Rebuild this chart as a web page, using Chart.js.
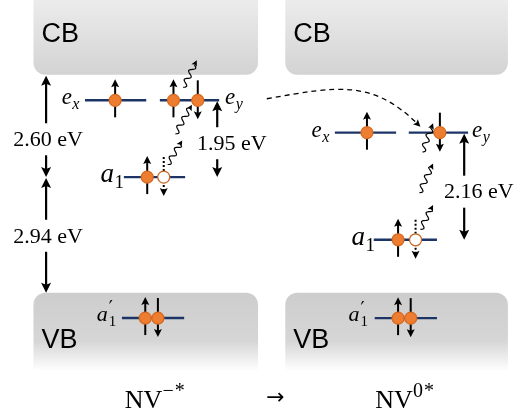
<!DOCTYPE html>
<html>
<head>
<meta charset="utf-8">
<script src="https://cdn.jsdelivr.net/npm/chart.js@4/dist/chart.umd.min.js"></script>
<style>
  html, body { margin: 0; padding: 0; background: #ffffff; }
  canvas { display: block; }
</style>
</head>
<body>
<canvas id="diagram" width="520" height="412"></canvas>
<script>
// ---------------- energies (eV, measured from the valence-band maximum) ----------------
const negGaps      = [2.60, 2.94, 1.95];   // NV−* : a1→CB, VB→a1, a1→e
const neuGaps      = [2.16];               // NV0* : a1→e
const neuA1        = 1.07;                 // NV0* : a1 above the VB
const neuCB        = 4.40;                 // NV0* : CB edge
const a1Prime      = [-0.64, -0.51];       // a1' resonance inside the VB (NV−*, NV0*)
const stateBase    = ['NV', 'NV'];
const stateCharges = [['−', '*'], ['0', '*']];

const negE = { vb: 0, a1: negGaps[1], e: negGaps[1] + negGaps[2], cb: negGaps[1] + negGaps[0], a1p: a1Prime[0] };
const neuE = { vb: 0, a1: neuA1, e: neuA1 + neuGaps[0], cb: neuCB, a1p: a1Prime[1] };

// occupations: [orbital, spin (+1 up / -1 down), hole]
const negOcc = [['ex', 1], ['ey', 1], ['ey', -1], ['a1', 1], ['a1', -1, true], ['a1p', 1], ['a1p', -1]];
const neuOcc = [['ex', 1], ['ey', -1], ['a1', 1], ['a1', -1, true], ['a1p', 1], ['a1p', -1]];

// orbital of each level line
const levelOf = { ex: 'e', ey: 'e', a1: 'a1', a1p: 'a1p' };

// ---------------- layout of the two panels ----------------
const panels = [
  {
    E: negE, axis: 'yL', band: [27, 258], labelShift: 9,
    lines: { ex: [80, 143], ey: [157, 218], a1: [120, 183], a1p: [118, 182] },
    occ: negOcc, occX: [111, 171, 196, 144, 161, 142, 155],
    names: { ex: 56, ey: 224, a1: 96, a1p: 92 },
    gaps: [
      { v: negGaps[0], from: 'a1', to: 'cb', x: 40, lx: 42, lE: 3.90 },
      { v: negGaps[1], from: 'vb', to: 'a1', x: 40, lx: 42, lE: 1.45 },
      { v: negGaps[2], from: 'a1', to: 'e',  x: 216, lx: 231, lE: 3.80 }
    ],
    photons: [[165, 3.26, 180, 3.87], [173, 4.04, 190, 4.78], [181, 5.22, 195, 5.91]]
  },
  {
    E: neuE, axis: 'yR', band: [286, 515], labelShift: 8,
    lines: { ex: [337, 400], ey: [413, 474], a1: [377, 442], a1p: [378, 442] },
    occ: neuOcc, occX: [370, 445, 402, 420, 402, 415],
    names: { ex: 313, ey: 478, a1: 354, a1p: 351 },
    gaps: [
      { v: neuGaps[0], from: 'a1', to: 'e', x: 470, lx: 485, lE: 2.04 }
    ],
    photons: [[427, 2.84, 438, 3.42], [424, 2.02, 438, 2.61], [425, 1.28, 438, 1.77]]
  }
];

// electron hopping from the NV−* e level into the NV0* e level (x, E on the left axis)
const transferPath = [[267, 4.93], [340, 5.25], [375, 5.42], [425, 4.22]];

// ---------------- styles ----------------
const LEVEL_COLOR = '#1d3566';
const ELECTRON = '#ED7D31';
const ELECTRON_EDGE = '#D8681F';
const HOLE_EDGE = '#C9621F';
const SERIF = '"Liberation Serif", "Times New Roman", serif';
const SANS = '"Liberation Sans", Arial, sans-serif';

// ---------------- datasets ----------------
const datasets = [];
panels.forEach(p => {
  Object.keys(p.lines).forEach(k => {
    const e = p.E[levelOf[k]];
    datasets.push({
      data: [{ x: p.lines[k][0], y: e }, { x: p.lines[k][1], y: e }],
      yAxisID: p.axis, showLine: true, borderColor: LEVEL_COLOR, borderWidth: 2.4,
      pointRadius: 0, order: 3
    });
  });
  datasets.push({
    data: p.occ.map((o, i) => ({ x: p.occX[i], y: p.E[levelOf[o[0]]] })),
    yAxisID: p.axis, showLine: false, order: 1,
    pointRadius: 6, pointBorderWidth: 1.2,
    pointBackgroundColor: p.occ.map(o => o[2] ? '#ffffff' : ELECTRON),
    pointBorderColor: p.occ.map(o => o[2] ? HOLE_EDGE : ELECTRON_EDGE)
  });
});

// ---------------- drawing helpers ----------------
function head(ctx, x, y, ang, len, half) {
  const c = Math.cos(ang), s = Math.sin(ang);
  ctx.beginPath();
  ctx.moveTo(x, y);
  ctx.lineTo(x - len * c + half * s, y - len * s - half * c);
  ctx.lineTo(x - len * c * 0.8, y - len * s * 0.8);
  ctx.lineTo(x - len * c - half * s, y - len * s + half * c);
  ctx.closePath();
  ctx.fill();
}
function arrow(ctx, x0, y0, x1, y1, o) {
  const ang = Math.atan2(y1 - y0, x1 - x0);
  ctx.save();
  ctx.strokeStyle = ctx.fillStyle = '#000';
  ctx.lineWidth = o.width;
  if (o.dash) ctx.setLineDash(o.dash);
  ctx.beginPath();
  ctx.moveTo(x0, y0);
  ctx.lineTo(x1 - o.len * 0.7 * Math.cos(ang), y1 - o.len * 0.7 * Math.sin(ang));
  ctx.stroke();
  ctx.setLineDash([]);
  head(ctx, x1, y1, ang, o.len, o.half);
  ctx.restore();
}
function photon(ctx, x0, y0, x1, y1) {
  const dx = x1 - x0, dy = y1 - y0, L = Math.hypot(dx, dy);
  const ux = dx / L, uy = dy / L, nx = -uy, ny = ux;
  const hl = 5, amp = 2.6, wl = 10;
  ctx.save();
  ctx.strokeStyle = ctx.fillStyle = '#000';
  ctx.lineWidth = 1.2;
  ctx.beginPath();
  for (let s = 0; s <= L - hl + 0.01; s += 0.5) {
    const w = amp * Math.sin(2 * Math.PI * s / wl);
    const X = x0 + ux * s + nx * w, Y = y0 + uy * s + ny * w;
    if (s === 0) ctx.moveTo(X, Y); else ctx.lineTo(X, Y);
  }
  ctx.stroke();
  head(ctx, x1, y1, Math.atan2(dy, dx), 6, 3);
  ctx.restore();
}
function mathName(ctx, x, y, base, sub, size, prime) {
  ctx.fillStyle = '#000';
  ctx.textAlign = 'left';
  ctx.textBaseline = 'alphabetic';
  ctx.font = 'italic ' + size + 'px ' + SERIF;
  ctx.fillText(base, x, y);
  const w = ctx.measureText(base).width;
  if (prime) {
    ctx.font = Math.round(size * 0.8) + 'px "DejaVu Serif", serif';
    ctx.fillText('′', x + w + 1, y - size * 0.3);
  }
  const subIsDigit = /\d/.test(sub);
  ctx.font = (subIsDigit ? '' : 'italic ') + Math.round(size * 0.7) + 'px ' + SERIF;
  ctx.fillText(sub, x + w + (prime ? 1 : 0.5), y + size * 0.22);
}

// ---------------- plugin: bands, arrows, photons, text ----------------
const levelDiagram = {
  id: 'levelDiagram',
  beforeDatasetsDraw(chart) {
    const ctx = chart.ctx, X = chart.scales.x;
    panels.forEach(p => {
      const Y = chart.scales[p.axis];
      const xl = X.getPixelForValue(p.band[0]), xr = X.getPixelForValue(p.band[1]);
      const cb = Y.getPixelForValue(p.E.cb), vb = Y.getPixelForValue(p.E.vb);
      // conduction band
      let g = ctx.createLinearGradient(0, 0, 0, cb);
      g.addColorStop(0, '#ececec');
      g.addColorStop(1, '#d3d3d3');
      ctx.fillStyle = g;
      ctx.beginPath();
      ctx.roundRect(xl, -30, xr - xl, cb + 30, 12);
      ctx.fill();
      // valence band
      g = ctx.createLinearGradient(0, vb, 0, vb + 78);
      g.addColorStop(0, '#cdcdcd');
      g.addColorStop(0.62, '#d6d6d6');
      g.addColorStop(1, '#ffffff');
      ctx.fillStyle = g;
      ctx.beginPath();
      ctx.roundRect(xl, vb, xr - xl, 90, [12, 12, 0, 0]);
      ctx.fill();
      // band names
      ctx.fillStyle = '#000';
      ctx.font = '27px ' + SANS;
      ctx.textAlign = 'left';
      ctx.textBaseline = 'alphabetic';
      ctx.fillText('CB', xl + 8, cb - 33);
      ctx.fillText('VB', xl + 8, vb + 55);

      // spin arrows through each electron
      p.occ.forEach((o, i) => {
        const x = X.getPixelForValue(p.occX[i]);
        const y = Y.getPixelForValue(p.E[levelOf[o[0]]]);
        const opt = { width: 2, len: 8, half: 4, dash: o[2] ? [2, 2] : null };
        if (o[1] > 0) arrow(ctx, x, y + 17, x, y - 21, opt);
        else arrow(ctx, x, y - 20, x, y + 19, opt);
      });
    });
  },
  afterDatasetsDraw(chart) {
    const ctx = chart.ctx, X = chart.scales.x;
    panels.forEach(p => {
      const Y = chart.scales[p.axis];
      // energy separations
      p.gaps.forEach(gp => {
        const x = X.getPixelForValue(gp.x);
        const yTop = Y.getPixelForValue(p.E[gp.to]);
        const yBot = Y.getPixelForValue(p.E[gp.from]);
        const yl = Y.getPixelForValue(gp.lE);
        const opt = { width: 2.2, len: 10, half: 5 };
        arrow(ctx, x, yl - 16, x, yTop + 1, opt);
        arrow(ctx, x, yl + 16, x, yBot, opt);
        ctx.fillStyle = '#000';
        ctx.font = '22px ' + SERIF;
        ctx.textAlign = 'center';
        ctx.textBaseline = 'middle';
        ctx.fillText(gp.v.toFixed(2) + ' eV', X.getPixelForValue(gp.lx), yl + 1);
      });
      // photons
      p.photons.forEach(ph => photon(ctx,
        X.getPixelForValue(ph[0]), Y.getPixelForValue(ph[1]),
        X.getPixelForValue(ph[2]), Y.getPixelForValue(ph[3])));
      // orbital names
      const yE = Y.getPixelForValue(p.E.e), yA = Y.getPixelForValue(p.E.a1), yP = Y.getPixelForValue(p.E.a1p);
      mathName(ctx, X.getPixelForValue(p.names.ex), yE + 4, 'e', 'x', 23);
      mathName(ctx, X.getPixelForValue(p.names.ey), yE + 4, 'e', 'y', 23);
      mathName(ctx, X.getPixelForValue(p.names.a1), yA + 5, 'a', '1', 27);
      mathName(ctx, X.getPixelForValue(p.names.a1p), yP + 3, 'a', '1', 22, true);
    });

    // transfer path between the two defects
    const YL = chart.scales.yL;
    const pts = transferPath.map(t => [X.getPixelForValue(t[0]), YL.getPixelForValue(t[1])]);
    ctx.save();
    ctx.strokeStyle = ctx.fillStyle = '#000';
    ctx.lineWidth = 1.3;
    ctx.setLineDash([5, 4]);
    ctx.beginPath();
    ctx.moveTo(pts[0][0], pts[0][1]);
    ctx.bezierCurveTo(pts[1][0], pts[1][1], pts[2][0], pts[2][1], pts[3][0] - 3, pts[3][1] - 3);
    ctx.stroke();
    ctx.setLineDash([]);
    head(ctx, pts[3][0], pts[3][1], Math.atan2(pts[3][1] - pts[2][1], pts[3][0] - pts[2][0]), 7, 3.5);
    ctx.restore();

    // state labels: NV with a superscript charge
    const baseY = 408;
    panels.forEach((p, i) => {
      const cx = X.getPixelForValue((p.band[0] + p.band[1]) / 2) + p.labelShift;
      ctx.textBaseline = 'alphabetic';
      ctx.textAlign = 'left';
      ctx.font = '26px ' + SERIF;
      const wb = ctx.measureText(stateBase[i]).width;
      ctx.font = '20px ' + SERIF;
      const parts = stateCharges[i];
      const gap = 1;
      const ws = parts.reduce((s, t) => s + ctx.measureText(t).width, 0) + gap * (parts.length - 1);
      let x = cx - (wb + ws) / 2;
      ctx.fillStyle = '#000';
      ctx.font = '26px ' + SERIF;
      ctx.fillText(stateBase[i], x, baseY);
      x += wb;
      ctx.font = '20px ' + SERIF;
      parts.forEach(t => {
        ctx.fillText(t, x, baseY - 11);
        x += ctx.measureText(t).width + gap;
      });
    });
    ctx.font = '22px "DejaVu Sans", sans-serif';
    ctx.textAlign = 'center';
    ctx.textBaseline = 'middle';
    ctx.fillText('→', X.getPixelForValue(276), 398);
  }
};

// ---------------- chart ----------------
new Chart(document.getElementById('diagram'), {
  type: 'scatter',
  data: { datasets },
  options: {
    responsive: false,
    animation: false,
    events: [],
    layout: { padding: 0 },
    plugins: { legend: { display: false }, tooltip: { enabled: false } },
    scales: {
      x:  { type: 'linear', min: 0, max: 520, display: false },
      yL: { type: 'linear', position: 'left', min: -2.8431, max: 7.2549, display: false },
      yR: { type: 'linear', position: 'right', min: -2.2573, max: 5.7600, display: false }
    }
  },
  plugins: [levelDiagram]
});
</script>
</body>
</html>
